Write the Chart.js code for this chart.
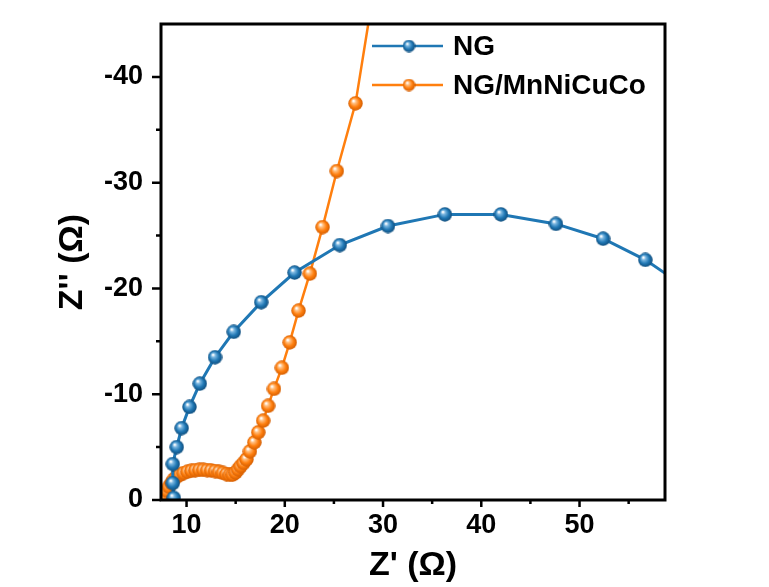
<!DOCTYPE html>
<html>
<head>
<meta charset="utf-8">
<script src="https://cdn.jsdelivr.net/npm/chart.js@4.4.1/dist/chart.umd.min.js"></script>
<style>
  html, body { margin: 0; padding: 0; background: #fff; }
  #wrap { width: 769px; height: 587px; }
</style>
</head>
<body>
<div id="wrap"><canvas id="c" width="769" height="587"></canvas></div>
<script>
// Nyquist data: Z' (x) and Z'' (y, negative)
const seriesNames = ["NG", "NG/MnNiCuCo"];

const ngX = [8.7, 8.6, 8.6, 9.0, 9.5, 10.3, 11.35, 12.9, 14.8, 17.6, 21.0, 25.6, 30.5, 36.3, 42.0, 47.6, 52.4, 56.7, 60.5];
const ngY = [-0.2, -1.6, -3.4, -5.0, -6.8, -8.8, -11.0, -13.5, -15.9, -18.7, -21.5, -24.1, -25.9, -27.0, -27.0, -26.1, -24.7, -22.7, -20.3];

const ngmX = [7.6, 7.8, 8.0, 8.2, 8.45, 8.7, 9.0, 9.35, 9.7, 10.1, 10.5, 10.9, 11.3, 11.7, 12.1, 12.5, 12.9, 13.3, 13.7, 14.05, 14.4, 14.7, 15.0, 15.25, 15.5, 15.8, 16.1, 16.45, 16.9, 17.3, 17.8, 18.3, 18.9, 19.7, 20.5, 21.4, 22.55, 23.85, 25.3, 27.2, 28.6];
const ngmY = [0, -0.4, -0.85, -1.25, -1.6, -1.95, -2.2, -2.4, -2.55, -2.68, -2.76, -2.82, -2.85, -2.85, -2.83, -2.8, -2.74, -2.66, -2.56, -2.45, -2.38, -2.4, -2.6, -2.9, -3.2, -3.5, -3.85, -4.6, -5.45, -6.4, -7.5, -8.9, -10.5, -12.5, -14.9, -17.9, -21.4, -25.8, -31.1, -37.5, -45.6];

const xTicks = [10, 20, 30, 40, 50];
const xMinorTicks = [15, 25, 35, 45, 55];
const yTicks = [0, -10, -20, -30, -40];
const yMinorTicks = [-5, -15, -25, -35];

const blue = "#1f77b4";
const orange = "#ff7f0e";

// little shaded "3D" ball used as the marker
function makeBall(size, light, base, dark) {
    const c = document.createElement("canvas");
    c.width = c.height = size;
    const g = c.getContext("2d");
    const r = size / 2;
    const grad = g.createRadialGradient(size * 0.36, size * 0.33, size * 0.04, r, r, r);
    grad.addColorStop(0, "#ffffff");
    grad.addColorStop(0.22, light);
    grad.addColorStop(0.6, base);
    grad.addColorStop(1, dark);
    g.fillStyle = grad;
    g.beginPath();
    g.arc(r, r, r - 0.3, 0, Math.PI * 2);
    g.fill();
    return c;
}

const blueBall = makeBall(15, "#7ab6e0", "#1f77b4", "#0f4a78");
const orangeBall = makeBall(15, "#ffbf80", "#ff7f0e", "#cf5a00");
const blueBallSmall = makeBall(13, "#7ab6e0", "#1f77b4", "#0f4a78");
const orangeBallSmall = makeBall(13, "#ffbf80", "#ff7f0e", "#cf5a00");

const toPoints = (xs, ys) => xs.map((x, i) => ({ x: x, y: ys[i] }));

const FONT = "'Liberation Sans', Arial, sans-serif";

// box frame + outward major/minor ticks
const frameTicks = {
    id: "frameTicks",
    afterDatasetsDraw(chart) {
        const { ctx, chartArea: a, scales: { x, y } } = chart;
        ctx.save();
        ctx.strokeStyle = "#000";
        ctx.lineWidth = 3;
        ctx.strokeRect(a.left, a.top, a.right - a.left, a.bottom - a.top);
        ctx.lineWidth = 2.5;
        ctx.beginPath();
        xTicks.forEach(v => { const p = x.getPixelForValue(v); ctx.moveTo(p, a.bottom); ctx.lineTo(p, a.bottom + 7); });
        xMinorTicks.forEach(v => { const p = x.getPixelForValue(v); ctx.moveTo(p, a.bottom); ctx.lineTo(p, a.bottom + 4); });
        yTicks.forEach(v => { const p = y.getPixelForValue(v); ctx.moveTo(a.left, p); ctx.lineTo(a.left - 9, p); });
        yMinorTicks.forEach(v => { const p = y.getPixelForValue(v); ctx.moveTo(a.left, p); ctx.lineTo(a.left - 5, p); });
        ctx.stroke();
        ctx.restore();
    }
};

// legend: line - ball - line, then label
const lineLegend = {
    id: "lineLegend",
    afterDraw(chart) {
        const { ctx } = chart;
        const rows = [46, 85];
        const balls = [blueBallSmall, orangeBallSmall];
        ctx.save();
        chart.data.datasets.forEach((ds, i) => {
            const yy = rows[i];
            ctx.strokeStyle = ds.borderColor;
            ctx.lineWidth = 2.5;
            ctx.beginPath();
            ctx.moveTo(372, yy);
            ctx.lineTo(443, yy);
            ctx.stroke();
            const b = balls[i];
            ctx.drawImage(b, 409 - b.width / 2, yy - b.height / 2);
            ctx.fillStyle = "#000";
            ctx.font = "bold 28px " + FONT;
            ctx.textBaseline = "middle";
            ctx.fillText(ds.label, 453, yy + 1);
        });
        ctx.restore();
    }
};

new Chart(document.getElementById("c"), {
    type: "scatter",
    data: {
        datasets: [
            {
                label: seriesNames[0],
                data: toPoints(ngX, ngY),
                showLine: true,
                borderColor: blue,
                borderWidth: 3,
                pointStyle: blueBall,
                pointRadius: 7,
                tension: 0,
                clip: 0
            },
            {
                label: seriesNames[1],
                data: toPoints(ngmX, ngmY),
                showLine: true,
                borderColor: orange,
                borderWidth: 2.5,
                pointStyle: orangeBall,
                pointRadius: 7,
                tension: 0,
                clip: 0
            }
        ]
    },
    options: {
        responsive: false,
        animation: false,
        layout: { padding: { left: 0, top: 24, right: 104, bottom: 0 } },
        plugins: { legend: { display: false }, tooltip: { enabled: false } },
        scales: {
            x: {
                type: "linear",
                min: 7.4,
                max: 58.7,
                grid: { display: false, drawTicks: false },
                border: { display: false },
                afterBuildTicks: s => { s.ticks = xTicks.map(v => ({ value: v })); },
                afterFit: s => { s.height = 87; s.paddingLeft = 0; s.paddingRight = 0; },
                ticks: {
                    color: "#000",
                    padding: 9,
                    font: { family: FONT, size: 27, weight: "bold" }
                },
                title: {
                    display: true,
                    text: "Z' (Ω)",
                    color: "#000",
                    font: { family: FONT, size: 34, weight: "bold", lineHeight: 1 },
                    padding: { top: 0, bottom: 4 }
                }
            },
            y: {
                type: "linear",
                min: -45,
                max: 0,
                reverse: true,
                grid: { display: false, drawTicks: false },
                border: { display: false },
                afterBuildTicks: s => { s.ticks = yTicks.map(v => ({ value: v })); },
                afterFit: s => { s.width = 161; s.paddingTop = 0; s.paddingBottom = 0; },
                ticks: {
                    color: "#000",
                    padding: 18,
                    font: { family: FONT, size: 27, weight: "bold" },
                    callback: v => String(v)
                },
                title: {
                    display: true,
                    text: "Z'' (Ω)",
                    color: "#000",
                    font: { family: FONT, size: 34, weight: "bold", lineHeight: 1 },
                    padding: { top: 56, bottom: 0 }
                }
            }
        }
    },
    plugins: [frameTicks, lineLegend]
});
</script>
</body>
</html>
